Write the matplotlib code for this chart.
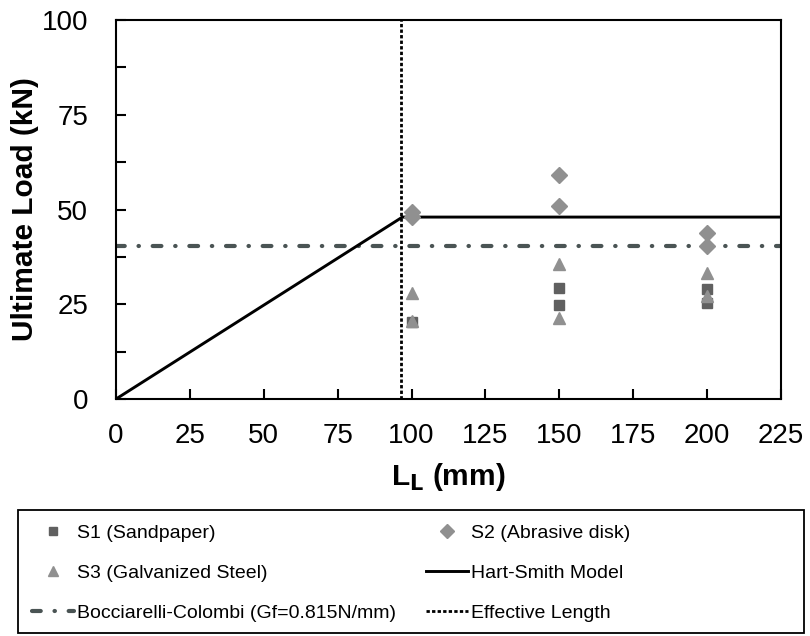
import numpy as np
import matplotlib.pyplot as plt
from matplotlib.ticker import MultipleLocator
from matplotlib.patches import Rectangle

plt.rcParams['font.family'] = ['Liberation Sans', 'DejaVu Sans']

# Experimental data (bond length in mm, ultimate load in kN)
s1_x = [100, 150, 150, 200, 200]
s1_y = [20.2, 29.2, 24.8, 28.9, 25.4]
s2_x = [100, 100, 150, 150, 200, 200]
s2_y = [49.3, 48.0, 59.0, 50.9, 43.7, 40.4]
s3_x = [100, 100, 150, 150, 200, 200]
s3_y = [27.9, 20.6, 35.5, 21.5, 33.2, 27.2]

# Models
hs_x = [0, 96.9, 225]
hs_y = [0, 48.0, 48.0]
bc_level = 40.3
le_x = 96.4

fig = plt.figure(figsize=(8.1, 6.36), dpi=100)
ax = fig.add_axes([116/810, 1 - 399/636, (781 - 116)/810, (399 - 20)/636])

h1, = ax.plot(s1_x, s1_y, 's', color='#606060', markersize=7, label='S1 (Sandpaper)', zorder=4)
h2, = ax.plot(s2_x, s2_y, 'D', color='#909090', markersize=8.5, label='S2 (Abrasive disk)', zorder=4)
h3, = ax.plot(s3_x, s3_y, '^', color='#909090', markersize=9, label='S3 (Galvanized Steel)', zorder=4)
h4, = ax.plot(hs_x, hs_y, '-', color='black', lw=2.1, label='Hart-Smith Model', zorder=3)
h5, = ax.plot([0, 225], [bc_level, bc_level], color='#4a5454', lw=3,
              dashes=(2.1, 3.3, 0.1, 3.3), dash_capstyle='round',
              label='Bocciarelli-Colombi (Gf=0.815N/mm)', zorder=2)
h6, = ax.plot([le_x, le_x], [0, 100], color='black', lw=2, dashes=(1.2, 0.8),
              label='Effective Length', zorder=3)

ax.set_xlim(0, 225)
ax.set_ylim(0, 100)
ax.xaxis.set_major_locator(MultipleLocator(25))
ax.yaxis.set_major_locator(MultipleLocator(25))
ax.yaxis.set_minor_locator(MultipleLocator(12.5))
ax.tick_params(which='both', direction='in', width=1.5, labelsize=20)
ax.tick_params(axis='x', pad=17)
ax.tick_params(axis='y', pad=20)
ax.tick_params(which='major', length=7)
ax.tick_params(which='minor', length=7)
for s in ax.spines.values():
    s.set_linewidth(1.5)

ax.set_xlabel('L$_\\mathbf{L}$ (mm)', fontsize=21.5, fontweight='bold', labelpad=9)
ax.set_ylabel('Ultimate Load (kN)', fontsize=21.5, fontweight='bold', labelpad=2)

# legend: row-wise reading order, matplotlib fills columns first
handles = [h1, h3, h5, h2, h4, h6]
leg = fig.legend(handles=handles, ncol=2, loc='center left',
                 bbox_to_anchor=(32/810, 1 - 573/636), fontsize=14, frameon=False,
                 handlelength=2.15, handletextpad=0.15, columnspacing=1.55,
                 borderaxespad=0, borderpad=0, labelspacing=1.15, markerscale=0.8)
fig.patches.append(Rectangle((18/810, 1 - 633/636), (804 - 18)/810, (633 - 510)/636,
                             transform=fig.transFigure, fill=False, edgecolor='black', lw=1.3))

fig.savefig('out.png', dpi=100)
